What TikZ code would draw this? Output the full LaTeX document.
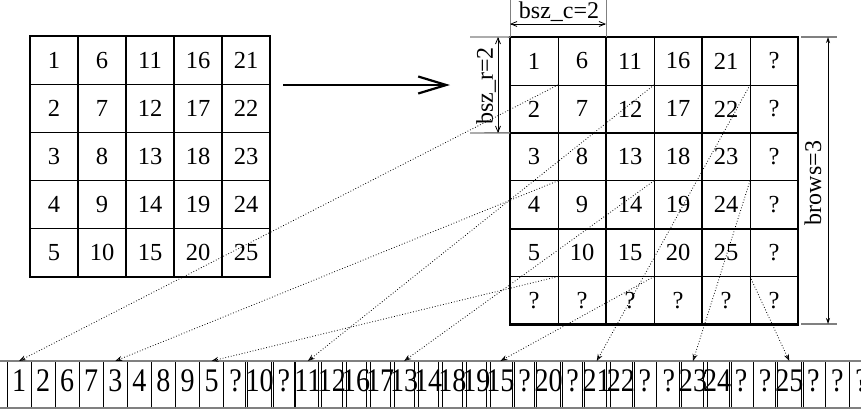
\documentclass[tikz,border=0pt]{standalone}
\usepackage{fontspec}
\setmainfont{Liberation Serif}
\newfontfamily\arrfont[FakeStretch=0.85]{Liberation Serif}
\usetikzlibrary{arrows.meta}
\begin{document}
\begin{tikzpicture}[x=1pt,y=-1pt,
  cellL/.style={draw, line width=1.2pt, outer sep=0pt, minimum width=48pt, minimum height=48.2pt, inner sep=0pt, font=\fontsize{24.5}{26}\selectfont},
  cellR/.style={draw, line width=0.8pt, outer sep=0pt, minimum width=48pt, minimum height=47.9pt, inner sep=0pt, font=\fontsize{24.5}{26}\selectfont},
  cellA/.style={draw, line width=0.8pt, outer sep=0pt, minimum width=24.07pt, minimum height=47pt, inner sep=0pt, text height=22pt, text depth=8pt, font=\arrfont\fontsize{33}{35}\selectfont},
  blk/.style={line width=2.2pt},
  ptr/.style={dotted, line width=0.8pt, -{Stealth[open,length=7pt,width=5pt]}},
  dim/.style={line width=0.8pt, {Straight Barb[length=6pt,width=5pt]}-{Straight Barb[length=6pt,width=5pt]}},
  dimb/.style={line width=0.8pt, {Stealth[length=6pt,width=4pt]}-{Stealth[length=6pt,width=4pt]}},
  tick/.style={gray, line width=1.4pt},
  lbl/.style={font=\fontsize{24}{26}\selectfont, inner sep=0pt}
]
\clip (0,0) rectangle (861,410);
\useasboundingbox (0,0) rectangle (861,410);

% left matrix
\foreach \r in {0,...,4}
  \foreach \c in {0,...,4}{
    \pgfmathtruncatemacro\v{\c*5+\r+1}
    \node[cellL] (L-\r-\c) at ({54+48*\c},{60.1+48.2*\r}) {\v};
  }

% right matrix
\foreach \r in {0,...,5}
  \foreach \c in {0,...,5}{
    \pgfmathtruncatemacro\v{\c*5+\r+1}
    \ifnum\r<5 \ifnum\c<5
      \node[cellR] (R-\r-\c) at ({534+48*\c},{61+47.9*\r}) {\v};
    \else
      \node[cellR] (R-\r-\c) at ({534+48*\c},{61+47.9*\r}) {?};
    \fi\else
      \node[cellR] (R-\r-\c) at ({534+48*\c},{61+47.9*\r}) {?};
    \fi
  }
\foreach \i in {0,2,4}
  \foreach \j in {0,2,4}{
    \pgfmathtruncatemacro\ii{\i+1}
    \pgfmathtruncatemacro\jj{\j+1}
    \draw[blk] (R-\i-\j.north west) rectangle (R-\ii-\jj.south east);
  }

% big arrow
\coordinate (bigS) at (283,85);
\coordinate (bigE) at (450,85);
\draw[line width=2.2pt, -{Straight Barb[length=28pt,width=17pt,line width=2.2pt]}] (bigS) -- (bigE);

% linear array
\foreach \v [count=\k from 0] in {1,2,6,7,3,4,8,9,5,?,10,?,11,12,16,17,13,14,18,19,15,?,20,?,21,22,?,?,23,24,?,?,25,?,?,?}
  \node[cellA] (A-\k) at ({19.03+24.07*\k},384.5) {\v};
\draw[tick] (0,361) -- (861,361);
\draw[tick] (0,408) -- (861,408);

% pointers from block centres
\foreach \bi in {0,1,2}
  \foreach \bj in {0,1,2}{
    \pgfmathtruncatemacro\rr{2*\bi}
    \pgfmathtruncatemacro\cc{2*\bj}
    \pgfmathtruncatemacro\k{4*(\bj*3+\bi)}
    \draw[ptr] (R-\rr-\cc.south east) -- (A-\k.north);
  }

% dimension bsz_c
\coordinate (tc1a) at (510,0); \coordinate (tc2a) at (606,0);
\draw[tick, line width=1pt] (tc1a) -- (R-0-0.north west);
\draw[tick, line width=1pt] (tc2a) -- (R-0-1.north east);
\coordinate (dc1) at (510,24); \coordinate (dc2) at (606,24);
\draw[dim] (dc1) -- (dc2);
\node[lbl] (lc) at (559,12) {bsz\_c=2};

% dimension bsz_r
\coordinate (tr1) at (470,37); \coordinate (tr2) at (470,133);
\draw[tick] (tr1) -- (R-0-0.north west);
\draw[tick] (tr2) -- (R-1-0.south west);
\coordinate (dr1) at (498,37); \coordinate (dr2) at (498,133);
\draw[dim] (dr1) -- (dr2);
\node[lbl, rotate=90] (lr) at (486,86) {bsz\_r=2};

% dimension brows
\coordinate (tb1) at (801,37); \coordinate (tb1e) at (837,37);
\coordinate (tb2) at (801,324); \coordinate (tb2e) at (837,324);
\draw[tick] (tb1) -- (tb1e);
\draw[tick] (tb2) -- (tb2e);
\coordinate (db1) at (828,37); \coordinate (db2) at (828,324);
\draw[dimb] (db1) -- (db2);
\node[lbl, rotate=90] (lb) at (813,183) {brows=3};
\end{tikzpicture}
\end{document}
